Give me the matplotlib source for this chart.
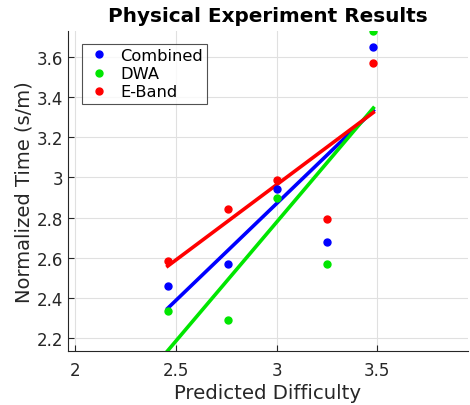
import numpy as np
import matplotlib
matplotlib.use("Agg")
import matplotlib.pyplot as plt

difficulty = [2.46, 2.76, 3.00, 3.25, 3.48]
combined = [2.46, 2.57, 2.94, 2.68, 3.65]
dwa = [2.335, 2.29, 2.90, 2.57, 3.73]
eband = [2.585, 2.845, 2.985, 2.795, 3.57]
series_names = ["Combined", "DWA", "E-Band"]
colors = ["#0000ff", "#00e600", "#ff0000"]
xticks = [2, 2.5, 3, 3.5]
yticks = [2.2, 2.4, 2.6, 2.8, 3.0, 3.2, 3.4, 3.6]
ytick_labels = ["2.2", "2.4", "2.6", "2.8", "3", "3.2", "3.4", "3.6"]

fig = plt.figure(figsize=(4.70, 4.06), dpi=100)
ax = fig.add_axes([68/470, 54/406, 400/470, 320/406])
text_color = "#262626"

x = np.array(difficulty)
for name, ys, c in zip(series_names, [combined, dwa, eband], colors):
    ax.plot(x, ys, "o", color=c, markersize=5, label=name, zorder=3)
for ys, c in zip([combined, dwa, eband], colors):
    p = np.polyfit(x, ys, 1)
    xx = np.array([x.min(), x.max()])
    ax.plot(xx, np.polyval(p, xx), "-", color=c, linewidth=2.6, zorder=2)

ax.set_xlim(1.965, 3.95)
ax.set_ylim(2.135, 3.73)
ax.set_xticks(xticks)
ax.set_xticklabels(["2", "2.5", "3", "3.5"])
ax.set_yticks(yticks)
ax.set_yticklabels(ytick_labels)
ax.grid(True, color="#e0e0e0", linewidth=0.8)
ax.set_axisbelow(True)
for s in ["top", "right"]:
    ax.spines[s].set_visible(False)
for s in ["left", "bottom"]:
    ax.spines[s].set_color(text_color)
ax.tick_params(direction="in", colors=text_color, labelsize=12, length=4)
ax.tick_params(axis="x", pad=7)
ax.set_xlabel("Predicted Difficulty", fontsize=14.2, color=text_color, labelpad=3)
ax.set_ylabel("Normalized Time (s/m)", fontsize=14, color=text_color, labelpad=2)
ax.set_title("Physical Experiment Results", fontsize=14.4, fontweight="bold", pad=7)
leg = ax.legend(loc="upper left", fontsize=11.7, frameon=True, fancybox=False,
                edgecolor="#262626", handletextpad=0.5, borderpad=0.25,
                labelspacing=0.2, handlelength=1.6, bbox_to_anchor=(0.015, 0.985))
leg.get_frame().set_linewidth(0.8)
fig.savefig("out.png", dpi=100)
